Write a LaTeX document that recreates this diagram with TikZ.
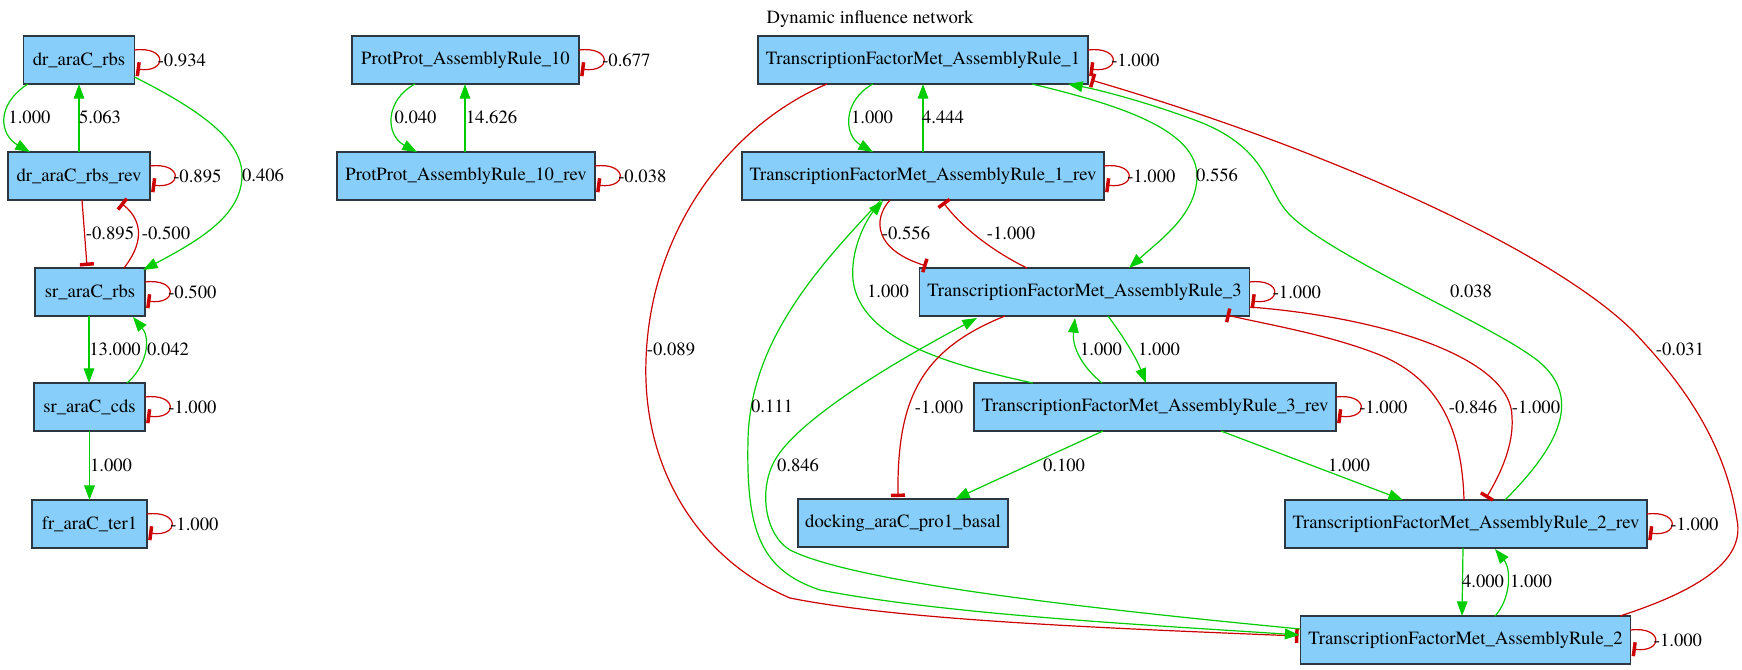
\documentclass[tikz,border=0pt]{standalone}
\usepackage{fontspec}
\IfFontExistsTF{texgyretermes-regular.otf}{\setmainfont{texgyretermes-regular.otf}}{\setmainfont{Liberation Serif}}
\usetikzlibrary{arrows.meta,calc}
\definecolor{grn}{RGB}{0,204,0}
\definecolor{rd}{RGB}{204,0,0}
\definecolor{nodefill}{RGB}{135,206,250}
\definecolor{nodeline}{RGB}{45,55,65}
\newcommand{\selfloop}[3]{%
 \draw[inh] ($(#1.east)+(0,-10)$) .. controls ($(#1.east)+(33,-14)$) and ($(#1.east)+(33,13)$) .. ($(#1.east)+(2,9)$);
 \node[lbl,anchor=west] (#2) at ($(#1.east)+(23,0)$) {#3};}
\begin{document}
\begin{tikzpicture}[x=0.75pt,y=-0.75pt,
  font=\rmfamily\fontsize{14}{16}\selectfont,
  box/.style={draw=nodeline, line width=1pt, fill=nodefill, minimum height=36pt, inner sep=1pt, outer sep=0pt, minimum width=#1*0.75pt},
  lbl/.style={inner sep=0pt},
  act/.style={draw=grn, line width=0.9pt, -{Triangle[length=11pt,width=8pt]}},
  inh/.style={draw=rd, line width=0.9pt, -{Bar[width=10.5pt,line width=2.6pt]}}]
\useasboundingbox (0,0) rectangle (1742,669);

\node[lbl] (title) at (870,19) {Dynamic influence network};

% nodes
\node[box=111] (ara1) at (79,60) {dr\_araC\_rbs};
\node[box=142] (ara2) at (79,176) {dr\_araC\_rbs\_rev};
\node[box=110] (ara3) at (90,292) {sr\_araC\_rbs};
\node[box=111] (ara4) at (89.5,407) {sr\_araC\_cds};
\node[box=115] (ara5) at (89.5,524) {fr\_araC\_ter1};
\node[box=227] (pp1) at (465.5,60) {ProtProt\_AssemblyRule\_10};
\node[box=258] (pp2) at (466,176) {ProtProt\_AssemblyRule\_10\_rev};
\node[box=330] (tf1) at (923,60) {TranscriptionFactorMet\_AssemblyRule\_1};
\node[box=362] (tf1r) at (923,176) {TranscriptionFactorMet\_AssemblyRule\_1\_rev};
\node[box=330] (tf3) at (1084.5,292) {TranscriptionFactorMet\_AssemblyRule\_3};
\node[box=362] (tf3r) at (1155,407) {TranscriptionFactorMet\_AssemblyRule\_3\_rev};
\node[box=210] (dock) at (903,523) {docking\_araC\_pro1\_basal};
\node[box=362] (tf2r) at (1466,524) {TranscriptionFactorMet\_AssemblyRule\_2\_rev};
\node[box=330] (tf2) at (1465.5,640) {TranscriptionFactorMet\_AssemblyRule\_2};

% left column
\draw[act] ($(ara1.south)+(-51,0)$) .. controls (-5,105) and (0,135) .. ($(ara2.north)+(-49,0)$);
\node[lbl] (l1) at (29.5,117) {1.000};
\draw[act] (ara2.north) -- (ara1.south);
\node[lbl] (l2) at (100,117) {5.063};
\selfloop{ara1}{l3}{-0.934}
\draw[act] ($(ara1.east)+(0,17)$) .. controls (200,110) and (242,140) .. (242,175) .. controls (242,215) and (200,240) .. ($(ara3.north east)+(-2,2)$);
\node[lbl] (l4) at (263,175) {0.406};
\selfloop{ara2}{l5}{-0.895}
\draw[inh] ($(ara2.south)+(3,0)$) -- ($(ara3.north)+(-3,-2)$);
\node[lbl] (l6) at (110,233) {-0.895};
\draw[inh] ($(ara3.north)+(34,0)$) .. controls (142,245) and (145,222) .. ($(ara2.south)+(42,3)$);
\node[lbl] (l7) at (166,233) {-0.500};
\selfloop{ara3}{l8}{-0.500}
\draw[act] ($(ara3.south)+(-1,0)$) -- ($(ara4.north)+(-0.5,0)$);
\node[lbl] (l9) at (115,349) {13.000};
\draw[act] ($(ara4.north)+(37.5,0)$) .. controls (145,368) and (152,340) .. ($(ara3.south)+(43,1)$);
\node[lbl] (l10) at (168,349) {0.042};
\selfloop{ara4}{l11}{-1.000}
\draw[act] (ara4.south) -- (ara5.north);
\node[lbl] (l12) at (111,465) {1.000};
\selfloop{ara5}{l13}{-1.000}

% protprot
\draw[act] ($(pp1.south)+(-50.5,0)$) .. controls (385,100) and (385,135) .. ($(pp2.north)+(-49,0)$);
\node[lbl] (l14) at (415.5,117) {0.040};
\draw[act] ($(pp2.north)+(-1,0)$) -- ($(pp1.south)+(-0.5,0)$);
\node[lbl] (l15) at (491.5,117) {14.626};
\selfloop{pp1}{l16}{-0.677}
\selfloop{pp2}{l17}{-0.038}

% TF cluster
\draw[act] ($(tf1.south)+(-50,0)$) .. controls (843,100) and (843,135) .. ($(tf1r.north)+(-50,0)$);
\node[lbl] (l18) at (872,117) {1.000};
\draw[act] (tf1r.north) -- (tf1.south);
\node[lbl] (l19) at (943,117) {4.444};
\selfloop{tf1}{l20}{-1.000}
\selfloop{tf1r}{l21}{-1.000}
\draw[act] ($(tf1.south)+(109,0)$) .. controls (1120,105) and (1198,130) .. (1197,177) .. controls (1196,215) and (1160,240) .. ($(tf3.north)+(44.5,0)$);
\node[lbl] (l22) at (1217,175) {0.556};
\draw[act] ($(tf2r.north)+(39,0)$) .. controls (1555,450) and (1590,395) .. (1530,355) .. controls (1480,320) and (1330,255) .. (1290,215) .. controls (1265,190) and (1270,150) .. (1200,122) .. controls (1150,103) and (1100,90) .. ($(tf1.south)+(145,0)$);
\node[lbl] (l23) at (1471,291) {0.038};
\draw[inh] ($(tf2.north)+(154.5,0)$) .. controls (1700,590) and (1745,560) .. (1737,520) .. controls (1725,440) and (1680,380) .. (1632,330) .. controls (1550,250) and (1330,150) .. ($(tf1.south east)+(3,-4)$);
\node[lbl] (l24) at (1680,349) {-0.031};
\draw[inh] ($(tf1.south)+(-96,0)$) .. controls (730,125) and (650,230) .. (646,360) .. controls (642,470) and (700,560) .. (790,598) .. controls (900,620) and (1100,628) .. ($(tf2.west)+(-2,-4)$);
\node[lbl] (l25) at (671,349) {-0.089};
\draw[inh] ($(tf1r.south)+(-33,0)$) .. controls (872,220) and (875,250) .. ($(tf3.north west)+(7,-2)$);
\node[lbl] (l26) at (906,233) {-0.556};
\draw[inh] ($(tf3.north)+(-57.5,0)$) .. controls (990,250) and (960,225) .. ($(tf1r.south)+(20,2)$);
\node[lbl] (l27) at (1011,233) {-1.000};
\draw[act] ($(tf3r.north)+(-122,0)$) .. controls (950,365) and (860,340) .. (853,280) .. controls (850,245) and (870,215) .. ($(tf1r.south)+(-40,1)$);
\node[lbl] (l28) at (888,291) {1.000};
\draw[act] ($(tf1r.south)+(-42,0)$) .. controls (820,265) and (750,340) .. (748,440) .. controls (746,530) and (760,570) .. (820,590) .. controls (950,615) and (1150,625) .. ($(tf2.west)+(-1,-5)$);
\node[lbl] (l29) at (772,406) {0.111};
\draw[act] ($(tf2.west)+(0,-11)$) .. controls (1050,605) and (850,580) .. (790,550) .. controls (765,535) and (758,490) .. (775,460) .. controls (795,425) and (870,375) .. ($(tf3.south)+(-107.5,2)$);
\node[lbl] (l30) at (798,465) {0.846};
\draw[inh] ($(tf3.south)+(-79.5,0)$) .. controls (920,350) and (897,400) .. ($(dock.north)+(-5,-2)$);
\node[lbl] (l31) at (939,407) {-1.000};
\selfloop{tf3}{l32}{-1.000}
\draw[act] ($(tf3.south)+(23.5,0)$) .. controls (1122,335) and (1135,355) .. ($(tf3r.north)+(-9,0)$);
\node[lbl] (l33) at (1159,349) {1.000};
\draw[act] ($(tf3r.north)+(-53,0)$) .. controls (1080,365) and (1072,345) .. ($(tf3.south)+(-9.5,2)$);
\node[lbl] (l34) at (1101,349) {1.000};
\selfloop{tf3r}{l35}{-1.000}
\draw[act] ($(tf3r.south)+(-52,0)$) -- ($(dock.north)+(52,0)$);
\node[lbl] (l36) at (1064,465) {0.100};
\draw[act] ($(tf3r.south)+(66,0)$) -- ($(tf2r.north)+(-63,0)$);
\node[lbl] (l37) at (1349,465) {1.000};
\draw[inh] ($(tf2r.north)+(-2,0)$) .. controls (1462,430) and (1440,380) .. (1380,355) .. controls (1330,335) and (1270,325) .. ($(tf3.south east)+(-23,-1)$);
\node[lbl] (l38) at (1473,407) {-0.846};
\draw[inh] ($(tf3.east)+(0,15)$) .. controls (1390,318) and (1512,360) .. (1512,417) .. controls (1514,445) and (1500,475) .. ($(tf2r.north)+(20,-2)$);
\node[lbl] (l39) at (1536,407) {-1.000};
\selfloop{tf2r}{l40}{-1.000}
\draw[act] ($(tf2r.south)+(-3,0)$) -- ($(tf2.north)+(-3.5,0)$);
\node[lbl] (l41) at (1483,581) {4.000};
\draw[act] ($(tf2.north)+(29.5,0)$) .. controls (1510,600) and (1512,570) .. ($(tf2r.south)+(29,1)$);
\node[lbl] (l42) at (1531,581) {1.000};
\selfloop{tf2}{l43}{-1.000}
\end{tikzpicture}
\end{document}
